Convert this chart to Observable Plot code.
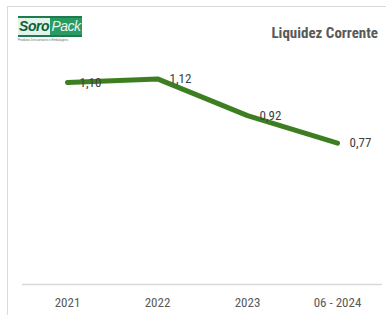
<!DOCTYPE html>
<html>
<head>
<meta charset="utf-8">
<script src="https://cdn.jsdelivr.net/npm/d3@7"></script>
<script src="https://cdn.jsdelivr.net/npm/@observablehq/plot@0.6"></script>
<style>
  html, body { margin: 0; padding: 0; background: #fff; overflow: hidden; }
  #wrap { position: relative; width: 386px; height: 315px; overflow: hidden; font-family: "Liberation Sans Narrow", "Roboto Condensed", "Arial Narrow", sans-serif; }
  #frame { position: absolute; left: 7px; top: 6px; width: 420px; height: 420px; border: 1px solid #d9d9d9; box-sizing: border-box; }
  #title { position: absolute; right: 8px; top: 24px; font-size: 15px; font-weight: bold; color: #595959; font-family: "Liberation Sans Narrow", "Roboto Condensed", sans-serif; font-stretch: condensed; }
  #logo { position: absolute; left: 18px; top: 16px; width: 64px; }
  #logo .bar { height: 2px; background: #1f7a4d; }
  #logo .row { display: flex; height: 17px; line-height: 17px; }
  #logo .soro { width: 32px; font-style: italic; font-weight: bold; font-size: 14px; color: #0f5e3a; font-family: "Liberation Sans", sans-serif; letter-spacing: -0.5px; background: #e2f3ea; text-align: center; }
  #logo .pack { width: 32px; font-style: italic; font-size: 14px; color: #e6f5ec; background: #2a9a63; font-family: "Liberation Sans", sans-serif; text-align: center; letter-spacing: -0.5px; }
  #logo .sub { font-size: 3px; color: #5a6f66; line-height: 4px; margin-top: 1px; white-space: nowrap; font-family: "Liberation Sans", sans-serif; }
  #chart { position: absolute; left: 0; top: 0; }
</style>
</head>
<body>
<div id="wrap">
  <div id="frame"></div>
  <div id="chart"></div>
  <div id="logo">
    <div class="bar"></div>
    <div class="row"><span class="soro">Soro</span><span class="pack">Pack</span></div>
    <div class="bar"></div>
    <div class="sub">Produtos Descartáveis e Embalagens</div>
  </div>
  <div id="title">Liquidez Corrente</div>
</div>
<script>
const periods = ["2021", "2022", "2023", "06 - 2024"];
const liquidez = [1.10, 1.12, 0.92, 0.77];
const labels = ["1,10", "1,12", "0,92", "0,77"];

const data = periods.map((p, i) => ({ period: p, value: liquidez[i], label: labels[i] }));

const chart = Plot.plot({
  width: 386,
  height: 315,
  marginLeft: 22,
  marginRight: 4,
  marginTop: 27,
  marginBottom: 31,
  style: { fontFamily: "'Liberation Sans Narrow', 'Roboto Condensed', sans-serif", background: "transparent", overflow: "visible" },
  x: { type: "point", domain: periods, padding: 0.5, label: null },
  y: { domain: [0, 1.4], axis: null },
  marks: [
    Plot.ruleY([0], { stroke: "#d9d9d9", strokeWidth: 1.5 }),
    Plot.axisX({ tickSize: 0, tickPadding: 13, fontSize: 13, color: "#595959", label: null }),
    Plot.line(data, { x: "period", y: "value", stroke: "#8a8a8a", strokeWidth: 7, strokeOpacity: 0.5, dx: 3, dy: -4, ariaLabel: "shadow" }),
    Plot.line(data, { x: "period", y: "value", stroke: "#3e7e22", strokeWidth: 5, strokeLinecap: "round", strokeLinejoin: "round" }),
    Plot.text(data, { x: "period", y: "value", text: "label", textAnchor: "start", dx: 12, dy: 0, fontSize: 13, fill: "#404040" })
  ]
});

const svg = d3.select(chart);
const defs = svg.insert("defs", ":first-child");
defs.append("filter").attr("id", "blurShadow").attr("x", "-10%").attr("y", "-50%").attr("width", "120%").attr("height", "200%")
  .append("feGaussianBlur").attr("stdDeviation", 2.2);
svg.select('g[aria-label="shadow"]').attr("filter", "url(#blurShadow)");

document.getElementById("chart").appendChild(chart);
</script>
</body>
</html>
